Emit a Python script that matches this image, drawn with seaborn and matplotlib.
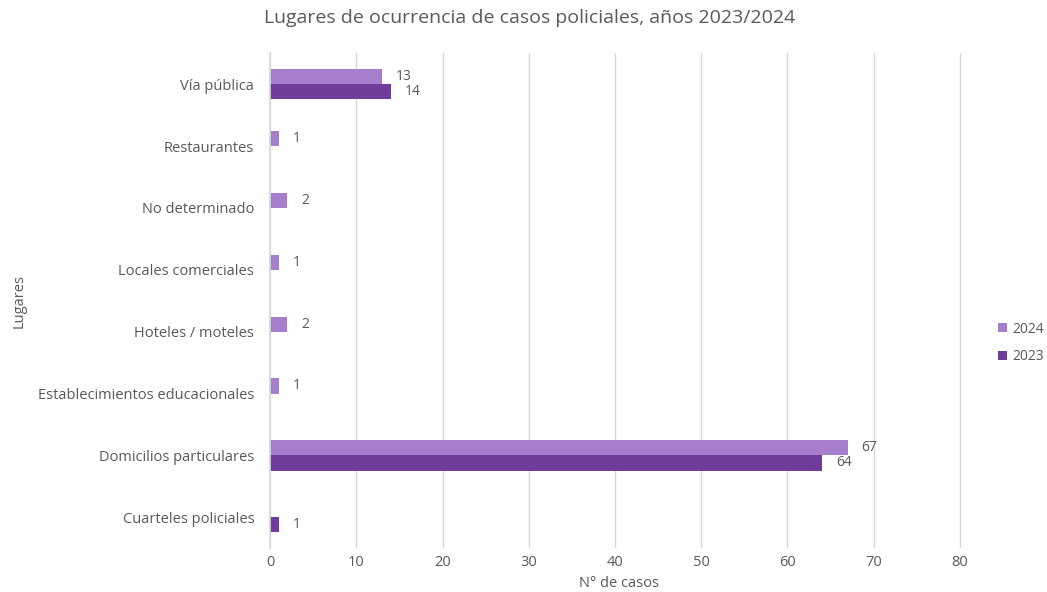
import matplotlib
matplotlib.use("Agg")
import matplotlib.pyplot as plt
import seaborn as sns
import pandas as pd

categories = ["Vía pública", "Restaurantes", "No determinado", "Locales comerciales",
              "Hoteles / moteles", "Establecimientos educacionales",
              "Domicilios particulares", "Cuarteles policiales"]
values_2024 = [13, 1, 2, 1, 2, 1, 67, 0]
values_2023 = [14, 0, 0, 0, 0, 0, 64, 1]
years = ["2024", "2023"]
x_ticks = [0, 10, 20, 30, 40, 50, 60, 70, 80]

sns.set_theme(style="white")
plt.rcParams['font.family'] = ['Open Sans', 'DejaVu Sans']

df = pd.DataFrame({
    "Lugar": categories * 2,
    "Año": ["2024"] * len(categories) + ["2023"] * len(categories),
    "Casos": values_2024 + values_2023,
})

colors = {"2024": "#A57FCB", "2023": "#6F3C9C"}
text_c = "#595959"

fig = plt.figure(figsize=(10.47, 5.92), dpi=100)
ax = fig.add_axes([0.258, 0.074, 0.667, 0.836])
sns.barplot(data=df, y="Lugar", x="Casos", hue="Año", hue_order=years,
            order=categories, palette=colors, orient="h", width=0.49,
            ax=ax, saturation=1, legend=True, linewidth=0)

for cont in ax.containers:
    labels = [f"{v:.0f}" if v > 0 else "" for v in cont.datavalues]
    ax.bar_label(cont, labels=labels, padding=10, fontsize=10, color=text_c)

ax.set_xlim(0, 81)
ax.set_xticks(x_ticks)
ax.xaxis.grid(True, color="#D9D9D9", linewidth=1)
ax.set_axisbelow(True)
for s in ["top", "right", "bottom"]:
    ax.spines[s].set_visible(False)
ax.spines["left"].set_color("#D9D9D9")
ax.tick_params(axis="both", colors=text_c, labelsize=10.5, length=0)
ax.tick_params(axis="y", pad=11.5)
ax.tick_params(axis="x", pad=5)
ax.set_xlabel("N° de casos", color=text_c, fontsize=10.5, labelpad=4)
ax.set_ylabel("Lugares", color=text_c, fontsize=10.5, labelpad=8)
fig.suptitle("Lugares de ocurrencia de casos policiales, años 2023/2024",
             x=0.506, y=0.985, color=text_c, fontsize=14)

handles, labs = ax.get_legend_handles_labels()
ax.legend(handles, labs, loc="center left", bbox_to_anchor=(1.025, 0.415),
          frameon=False, fontsize=10, labelcolor=text_c, handlelength=0.6,
          handleheight=0.6, handletextpad=0.4, labelspacing=0.9)

fig.savefig("out.png", dpi=100, facecolor="white")
